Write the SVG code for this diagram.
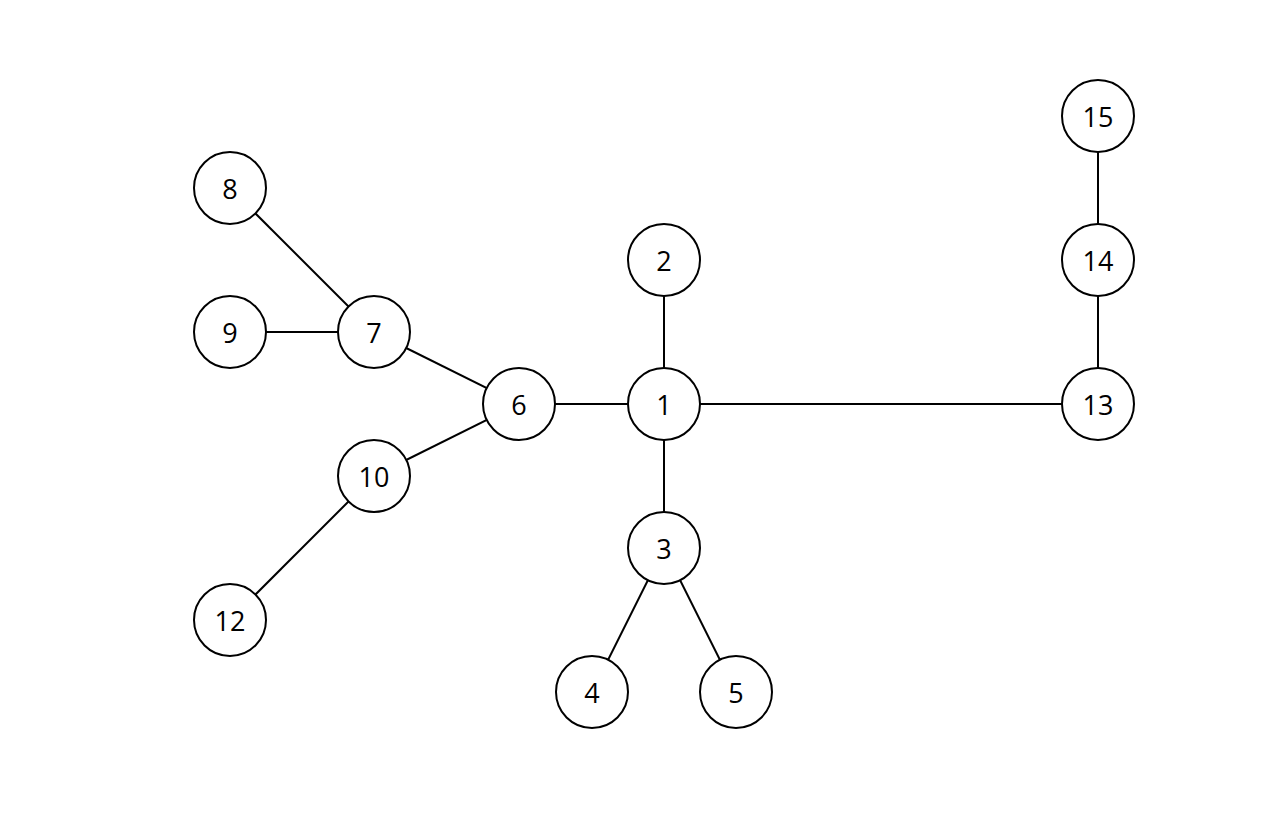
<svg xmlns="http://www.w3.org/2000/svg" width="1280" height="816" viewBox="0 0 1280 816">
<style>
.e{stroke:#000;stroke-width:2;fill:none}
.n circle{fill:#fff;stroke:#000;stroke-width:2}
.n text{font-family:"Open Sans","Noto Sans",sans-serif;font-size:27px;fill:#000;text-anchor:middle;dominant-baseline:central}
</style>
<rect width="1280" height="816" fill="#fff"/>
<g id="edges">
<line class="e" x1="664" y1="404" x2="664" y2="260"/>
<line class="e" x1="664" y1="404" x2="664" y2="548"/>
<line class="e" x1="664" y1="548" x2="592" y2="692"/>
<line class="e" x1="664" y1="548" x2="736" y2="692"/>
<line class="e" x1="664" y1="404" x2="519" y2="404"/>
<line class="e" x1="664" y1="404" x2="1098" y2="404"/>
<line class="e" x1="1098" y1="404" x2="1098" y2="260"/>
<line class="e" x1="1098" y1="260" x2="1098" y2="116"/>
<line class="e" x1="519" y1="404" x2="374" y2="332"/>
<line class="e" x1="519" y1="404" x2="374" y2="476"/>
<line class="e" x1="374" y1="332" x2="230" y2="188"/>
<line class="e" x1="374" y1="332" x2="230" y2="332"/>
<line class="e" x1="374" y1="476" x2="230" y2="620"/>
</g>
<g id="n1" class="n"><circle cx="664" cy="404" r="36"/><text x="664" y="404">1</text></g>
<g id="n2" class="n"><circle cx="664" cy="260" r="36"/><text x="664" y="260">2</text></g>
<g id="n3" class="n"><circle cx="664" cy="548" r="36"/><text x="664" y="548">3</text></g>
<g id="n4" class="n"><circle cx="592" cy="692" r="36"/><text x="592" y="692">4</text></g>
<g id="n5" class="n"><circle cx="736" cy="692" r="36"/><text x="736" y="692">5</text></g>
<g id="n6" class="n"><circle cx="519" cy="404" r="36"/><text x="519" y="404">6</text></g>
<g id="n7" class="n"><circle cx="374" cy="332" r="36"/><text x="374" y="332">7</text></g>
<g id="n8" class="n"><circle cx="230" cy="188" r="36"/><text x="230" y="188">8</text></g>
<g id="n9" class="n"><circle cx="230" cy="332" r="36"/><text x="230" y="332">9</text></g>
<g id="n10" class="n"><circle cx="374" cy="476" r="36"/><text x="374" y="476">10</text></g>
<g id="n12" class="n"><circle cx="230" cy="620" r="36"/><text x="230" y="620">12</text></g>
<g id="n13" class="n"><circle cx="1098" cy="404" r="36"/><text x="1098" y="404">13</text></g>
<g id="n14" class="n"><circle cx="1098" cy="260" r="36"/><text x="1098" y="260">14</text></g>
<g id="n15" class="n"><circle cx="1098" cy="116" r="36"/><text x="1098" y="116">15</text></g>
</svg>
